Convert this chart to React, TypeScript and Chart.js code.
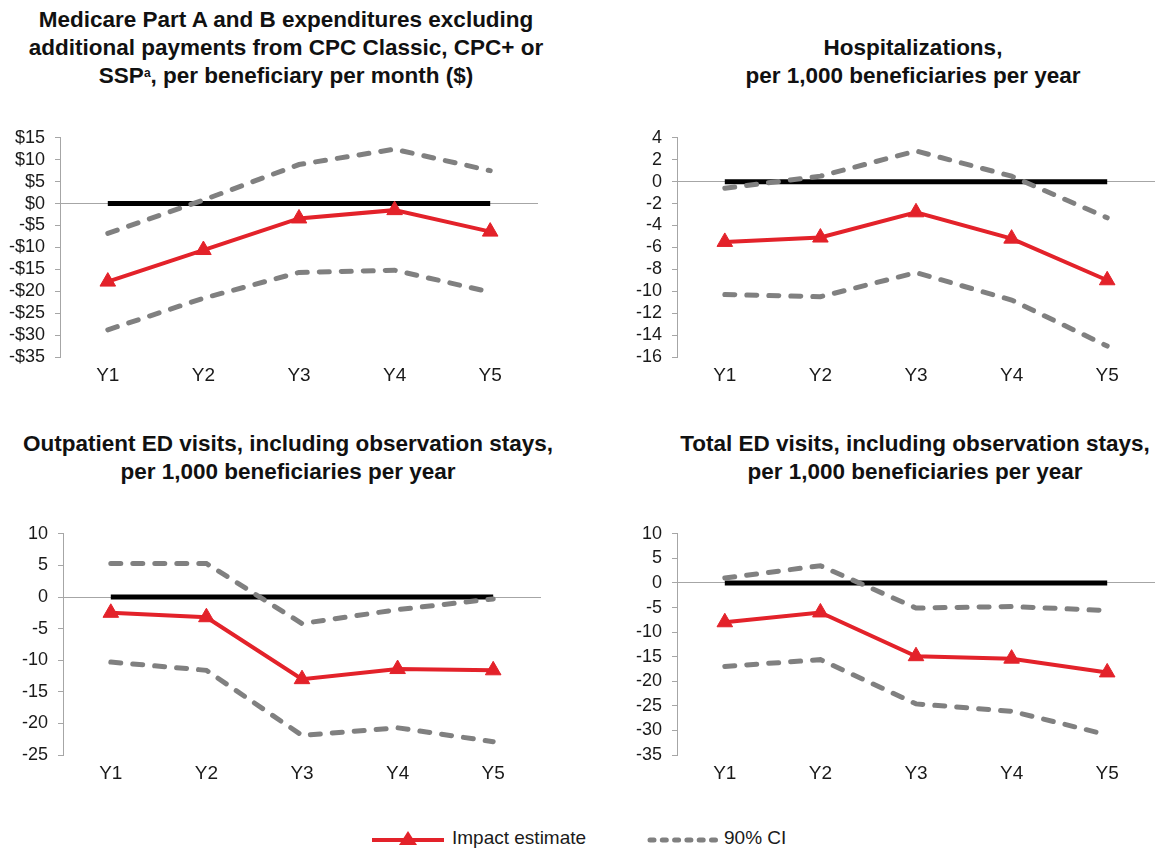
import React, { useEffect, useRef } from "react";
import { Chart, registerables } from "chart.js";

Chart.register(...registerables);

// ---------- Data ----------
const categories = ["Y1", "Y2", "Y3", "Y4", "Y5"];
const zeroLine = [0, 0, 0, 0, 0];

// Panel 1: Medicare Part A and B expenditures ($ per beneficiary per month)
const spendImpact = [-17.8, -10.6, -3.4, -1.5, -6.4];
const spendUpper = [-6.8, 0.8, 8.9, 12.4, 7.5];
const spendLower = [-28.8, -21.6, -15.7, -15.2, -20.2];
const spendTicks = { min: -35, max: 15, step: 5 };

// Panel 2: Hospitalizations per 1,000 beneficiaries per year
const hospImpact = [-5.5, -5.1, -2.8, -5.2, -9.0];
const hospUpper = [-0.6, 0.5, 2.8, 0.5, -3.3];
const hospLower = [-10.3, -10.5, -8.3, -10.8, -15.0];
const hospTicks = { min: -16, max: 4, step: 2 };

// Panel 3: Outpatient ED visits per 1,000 beneficiaries per year
const outEdImpact = [-2.5, -3.2, -13.0, -11.4, -11.6];
const outEdUpper = [5.3, 5.3, -4.2, -2.0, -0.3];
const outEdLower = [-10.3, -11.6, -21.9, -20.7, -22.9];
const outEdTicks = { min: -25, max: 10, step: 5 };

// Panel 4: Total ED visits per 1,000 beneficiaries per year
const totEdImpact = [-8.0, -6.0, -14.9, -15.4, -18.2];
const totEdUpper = [1.0, 3.5, -5.1, -4.8, -5.6];
const totEdLower = [-17.0, -15.6, -24.6, -26.1, -30.9];
const totEdTicks = { min: -35, max: 10, step: 5 };

const legendLabels = ["Impact estimate", "90% CI"];

// ---------- Styles ----------
const FONT = '"Liberation Sans", Arial, Helvetica, sans-serif';
const RED = "#e3222a";
const GRAY = "#808080";
const AXIS = "#a6a6a6";
const TXT = "#1a1a1a";

const dollarFmt = (v: number) => (v < 0 ? `-$${-v}` : `$${v}`);
const plainFmt = (v: number) => `${v}`;

type Area = { left: number; top: number; right: number; bottom: number };

type PanelProps = {
  impact: number[];
  upper: number[];
  lower: number[];
  ticks: { min: number; max: number; step: number };
  fmt: (v: number) => string;
  area: Area;
};

const Y_W = 60;
const PAD_T = 14;
const PAD_R = 8;
const X_H = 40;

function Panel({ impact, upper, lower, ticks, fmt, area }: PanelProps) {
  const ref = useRef<HTMLCanvasElement>(null);
  const width = Y_W + (area.right - area.left) + PAD_R;
  const height = PAD_T + (area.bottom - area.top) + X_H;

  useEffect(() => {
    const ciStyle = {
      borderColor: GRAY,
      backgroundColor: GRAY,
      borderWidth: 5,
      borderDash: [10, 12],
      borderCapStyle: "round" as const,
      pointRadius: 0,
      fill: false,
      tension: 0,
    };
    const chart = new Chart(ref.current!, {
      type: "line",
      data: {
        labels: categories,
        datasets: [
          {
            label: legendLabels[0],
            data: impact,
            borderColor: RED,
            backgroundColor: RED,
            borderWidth: 4,
            pointStyle: "triangle",
            pointRadius: 9,
            pointBorderWidth: 1,
            pointBackgroundColor: RED,
            pointBorderColor: RED,
            fill: false,
            tension: 0,
          },
          { label: legendLabels[1], data: upper, ...ciStyle },
          { label: legendLabels[1] + " (lower)", data: lower, ...ciStyle },
          {
            label: "Zero",
            data: zeroLine,
            borderColor: "#000",
            backgroundColor: "#000",
            borderWidth: 5,
            pointRadius: 0,
            fill: false,
          },
        ],
      },
      options: {
        responsive: false,
        animation: false,
        layout: { padding: { top: PAD_T, right: PAD_R, left: 0, bottom: 0 } },
        plugins: { legend: { display: false }, tooltip: { enabled: false } },
        scales: {
          x: {
            offset: true,
            grid: { display: false, drawTicks: false },
            border: { display: false },
            ticks: { color: TXT, font: { family: FONT, size: 19 }, padding: 7, autoSkip: false, maxRotation: 0 },
            afterFit: (s: any) => {
              s.height = X_H;
            },
          },
          y: {
            min: ticks.min,
            max: ticks.max,
            ticks: {
              stepSize: ticks.step,
              autoSkip: false,
              callback: (v: any) => fmt(Number(v)),
              color: TXT,
              font: { family: FONT, size: 18 },
              padding: 10,
            },
            grid: {
              color: (c: any) => (c.tick && c.tick.value === 0 ? AXIS : "rgba(0,0,0,0)"),
              tickColor: AXIS,
              tickLength: 5,
              lineWidth: 1,
              drawTicks: true,
            },
            border: { display: true, color: AXIS, width: 1 },
            afterFit: (s: any) => {
              s.width = Y_W;
            },
          },
        },
      },
    });
    return () => chart.destroy();
  }, []);

  return (
    <canvas
      ref={ref}
      width={width}
      height={height}
      style={{ position: "absolute", left: area.left - Y_W, top: area.top - PAD_T, width, height }}
    />
  );
}

const titleStyle: React.CSSProperties = {
  position: "absolute",
  textAlign: "center",
  fontFamily: FONT,
  fontWeight: "bold",
  fontSize: 22.5,
  lineHeight: "28px",
  color: "#111",
  whiteSpace: "nowrap",
};

function Legend() {
  return (
    <div style={{ position: "absolute", left: 0, top: 824, width: 1168, height: 24 }}>
      <svg style={{ position: "absolute", left: 370, top: 2 }} width={76} height={22}>
        <line x1={2} y1={14} x2={74} y2={14} stroke={RED} strokeWidth={4} />
        <polygon points="38,5 47,19 29,19" fill={RED} />
      </svg>
      <div
        style={{
          position: "absolute",
          left: 452,
          top: 0,
          fontFamily: FONT,
          fontSize: 19,
          lineHeight: "28px",
          color: TXT,
          whiteSpace: "nowrap",
        }}
      >
        {legendLabels[0]}
      </div>
      <svg style={{ position: "absolute", left: 645, top: 2 }} width={80} height={22}>
        <line
          x1={5}
          y1={14}
          x2={76}
          y2={14}
          stroke={GRAY}
          strokeWidth={5}
          strokeLinecap="round"
          strokeDasharray="4 8.3"
        />
      </svg>
      <div
        style={{
          position: "absolute",
          left: 724,
          top: 0,
          fontFamily: FONT,
          fontSize: 19,
          lineHeight: "28px",
          color: TXT,
          whiteSpace: "nowrap",
        }}
      >
        {legendLabels[1]}
      </div>
    </div>
  );
}

export default function App() {
  return (
    <div
      style={{
        position: "absolute",
        left: 0,
        top: 0,
        width: 1168,
        height: 848,
        background: "#fff",
        overflow: "hidden",
      }}
    >
      <div style={{ ...titleStyle, left: 0, width: 572, top: 6 }}>
        Medicare Part A and B expenditures excluding
        <br />
        additional payments from CPC Classic, CPC+ or
        <br />
        SSP<sup style={{ fontSize: 12, verticalAlign: "6px", lineHeight: 0 }}>a</sup>, per beneficiary per month ($)
      </div>
      <div style={{ ...titleStyle, left: 640, width: 546, top: 34 }}>
        Hospitalizations,
        <br />
        per 1,000 beneficiaries per year
      </div>
      <div style={{ ...titleStyle, left: 0, width: 576, top: 430 }}>
        Outpatient ED visits, including observation stays,
        <br />
        per 1,000 beneficiaries per year
      </div>
      <div style={{ ...titleStyle, left: 644, width: 542, top: 430 }}>
        Total ED visits, including observation stays,
        <br />
        per 1,000 beneficiaries per year
      </div>

      <Panel
        impact={spendImpact}
        upper={spendUpper}
        lower={spendLower}
        ticks={spendTicks}
        fmt={dollarFmt}
        area={{ left: 60, right: 540, top: 131, bottom: 357 }}
      />
      <Panel
        impact={hospImpact}
        upper={hospUpper}
        lower={hospLower}
        ticks={hospTicks}
        fmt={plainFmt}
        area={{ left: 677, right: 1157, top: 131, bottom: 357 }}
      />
      <Panel
        impact={outEdImpact}
        upper={outEdUpper}
        lower={outEdLower}
        ticks={outEdTicks}
        fmt={plainFmt}
        area={{ left: 63, right: 543, top: 527, bottom: 755 }}
      />
      <Panel
        impact={totEdImpact}
        upper={totEdUpper}
        lower={totEdLower}
        ticks={totEdTicks}
        fmt={plainFmt}
        area={{ left: 677, right: 1157, top: 527, bottom: 755 }}
      />
      <Legend />
    </div>
  );
}
